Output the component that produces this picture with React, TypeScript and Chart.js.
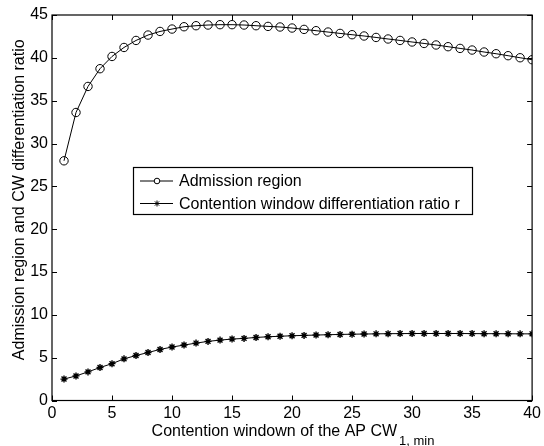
import React, { useEffect, useRef } from "react";
import { Chart, registerables } from "chart.js";

Chart.register(...registerables);

const cwValues = [1,2,3,4,5,6,7,8,9,10,11,12,13,14,15,16,17,18,19,20,21,22,23,24,25,26,27,28,29,30,31,32,33,34,35,36,37,38,39,40];
const admissionRegion = [27.98,33.62,36.66,38.73,40.16,41.21,42.03,42.66,43.08,43.36,43.63,43.75,43.83,43.87,43.87,43.83,43.75,43.67,43.6,43.48,43.32,43.17,43.01,42.85,42.7,42.55,42.38,42.2,42.03,41.85,41.68,41.5,41.3,41.1,40.91,40.68,40.48,40.25,40.01,39.78];
const cwRatio = [2.5,2.87,3.34,3.85,4.3,4.86,5.25,5.6,5.96,6.24,6.47,6.7,6.9,7.05,7.17,7.25,7.36,7.44,7.5,7.56,7.6,7.64,7.68,7.71,7.74,7.76,7.78,7.8,7.81,7.82,7.82,7.82,7.82,7.82,7.81,7.8,7.8,7.79,7.78,7.78];
const xTicks = [0,5,10,15,20,25,30,35,40];
const yTicks = [0,5,10,15,20,25,30,35,40,45];
const seriesNames = ["Admission region", "Contention window differentiation ratio r"];
const xTitle = "Contention windown of the AP CW";
const xTitleSub = "1, min";
const yTitle = "Admission region and CW differentiation ratio";

const FONT = "'Liberation Sans', Arial, Helvetica, sans-serif";

export default function App() {
  const ref = useRef<HTMLCanvasElement | null>(null);
  useEffect(() => {
    const canvas = ref.current;
    if (!canvas) return;
    const framePlugin = {
      id: "frame",
      afterDraw(chart: any) {
        const ctx = chart.ctx;
        const a = chart.chartArea;
        const xs = chart.scales.x;
        const ys = chart.scales.y;
        ctx.save();
        ctx.strokeStyle = "#000";
        ctx.lineWidth = 1.2;
        ctx.strokeRect(a.left, a.top, a.right - a.left, a.bottom - a.top);
        ctx.lineWidth = 1;
        const tl = 5;
        ctx.beginPath();
        xTicks.forEach((v) => {
          const px = Math.round(xs.getPixelForValue(v)) + 0.5;
          ctx.moveTo(px, a.bottom); ctx.lineTo(px, a.bottom - tl);
          ctx.moveTo(px, a.top); ctx.lineTo(px, a.top + tl);
        });
        yTicks.forEach((v) => {
          const py = Math.round(ys.getPixelForValue(v)) + 0.5;
          ctx.moveTo(a.left, py); ctx.lineTo(a.left + tl, py);
          ctx.moveTo(a.right, py); ctx.lineTo(a.right - tl, py);
        });
        ctx.stroke();

        // legend
        const lx = 133.5, ly = 167.5, lw = 339, lh = 47;
        ctx.fillStyle = "#fff";
        ctx.fillRect(lx, ly, lw, lh);
        ctx.lineWidth = 1.2;
        ctx.strokeRect(lx, ly, lw, lh);
        ctx.lineWidth = 1;
        ctx.fillStyle = "#000";
        ctx.font = `16px ${FONT}`;
        ctx.textBaseline = "middle";
        ctx.textAlign = "left";
        const rows = [181, 203.5];
        rows.forEach((ry, i) => {
          ctx.beginPath();
          ctx.moveTo(140, ry); ctx.lineTo(173, ry);
          ctx.stroke();
          if (i === 0) {
            ctx.beginPath();
            ctx.arc(157, ry, 2.8, 0, Math.PI * 2);
            ctx.fillStyle = "#fff";
            ctx.fill();
            ctx.stroke();
          } else {
            ctx.beginPath();
            const r = 3;
            for (let k = 0; k < 4; k++) {
              const ang = (k * Math.PI) / 4;
              ctx.moveTo(157 - r * Math.cos(ang), ry - r * Math.sin(ang));
              ctx.lineTo(157 + r * Math.cos(ang), ry + r * Math.sin(ang));
            }
            ctx.stroke();
          }
          ctx.fillStyle = "#000";
          ctx.fillText(seriesNames[i], 179, ry + 1);
        });

        // x title with subscript
        ctx.font = `16px ${FONT}`;
        ctx.textBaseline = "alphabetic";
        const mainW = ctx.measureText(xTitle).width;
        ctx.font = `13px ${FONT}`;
        const subW = ctx.measureText(xTitleSub).width;
        const cx = (a.left + a.right) / 2;
        const startX = cx - (mainW + subW) / 2;
        ctx.font = `16px ${FONT}`;
        ctx.fillText(xTitle, startX, 435.5);
        ctx.font = `13px ${FONT}`;
        ctx.fillText(xTitleSub, startX + mainW + 2, 445);

        // y title
        ctx.font = `16px ${FONT}`;
        ctx.translate(24, (a.top + a.bottom) / 2 - 8);
        ctx.rotate(-Math.PI / 2);
        ctx.textAlign = "center";
        ctx.textBaseline = "alphabetic";
        ctx.fillText(yTitle, 0, 0);
        ctx.restore();
      },
    };

    const chart = new Chart(canvas, {
      type: "line",
      data: {
        datasets: [
          {
            label: seriesNames[0],
            data: cwValues.map((x, i) => ({ x, y: admissionRegion[i] })),
            borderColor: "#000",
            borderWidth: 1,
            pointStyle: "circle",
            pointRadius: 4.2,
            pointBorderWidth: 1,
            pointBorderColor: "#000",
            pointBackgroundColor: "rgba(0,0,0,0)",
            tension: 0,
          },
          {
            label: seriesNames[1],
            data: cwValues.map((x, i) => ({ x, y: cwRatio[i] })),
            borderColor: "#000",
            borderWidth: 1,
            pointStyle: "star",
            pointRadius: 3.5,
            pointBorderWidth: 1.4,
            pointBorderColor: "#000",
            pointBackgroundColor: "#000",
            tension: 0,
          },
        ],
      },
      options: {
        animation: false,
        responsive: false,
        maintainAspectRatio: false,
        layout: { padding: { top: 15, right: 8.5, left: 0, bottom: 0 } },
        plugins: { legend: { display: false }, tooltip: { enabled: false } },
        scales: {
          x: {
            type: "linear",
            min: 0,
            max: 40,
            afterFit: (s: any) => { s.height = 45.5; },
            afterBuildTicks: (s: any) => { s.ticks = xTicks.map((v) => ({ value: v })); },
            grid: { display: false, drawTicks: false },
            border: { display: false },
            ticks: { color: "#000", font: { family: FONT, size: 16 }, padding: 3, maxRotation: 0 },
          },
          y: {
            type: "linear",
            min: 0,
            max: 45,
            afterFit: (s: any) => { s.width = 52; },
            afterBuildTicks: (s: any) => { s.ticks = yTicks.map((v) => ({ value: v })); },
            grid: { display: false, drawTicks: false },
            border: { display: false },
            ticks: { color: "#000", font: { family: FONT, size: 16 }, padding: 4 },
          },
        },
      },
      plugins: [framePlugin],
    });
    return () => chart.destroy();
  }, []);

  return (
    <div style={{ position: "fixed", left: 0, top: 0, width: 544, height: 446, background: "#fff" }}>
      <canvas ref={ref} width={544} height={446} style={{ width: 544, height: 446 }} />
    </div>
  );
}
